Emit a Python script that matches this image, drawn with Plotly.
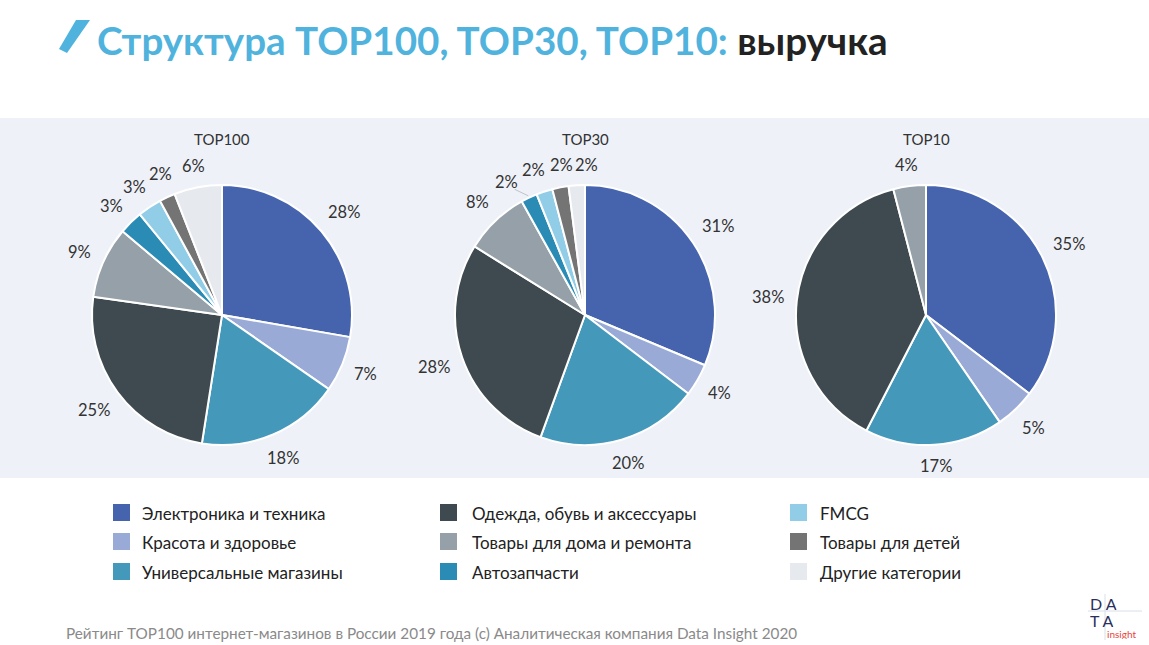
import math
import plotly.graph_objects as go

W, H = 1149, 645

categories = ["Электроника и техника", "Красота и здоровье", "Универсальные магазины",
              "Одежда, обувь и аксессуары", "Товары для дома и ремонта", "Автозапчасти",
              "FMCG", "Товары для детей", "Другие категории"]
colors = ["#4664AD", "#9AAAD6", "#4499BB", "#3F4A50", "#95A0A8", "#2A8BB5",
          "#92CDE8", "#747474", "#E6E9EE"]

top100 = [28, 7, 18, 25, 9, 3, 3, 2, 6]
top30 = [31, 4, 20, 28, 8, 2, 2, 2, 2]
top10 = [35, 5, 17, 38, 4]

pie_titles = ["TOP100", "TOP30", "TOP10"]
pie_series = [top100, top30, top10]
pie_cx = [222, 585, 926]   # pixel centres
pie_cy = 315
radius = 130

legend_cols = [categories[0:3], categories[3:6], categories[6:9]]

LABEL_FONT = 16.5
LABEL_H = 16


def px_x(x):
    return x / W


def px_y(y):
    return 1 - y / H


def label_width(txt):
    return 9.6 * (len(txt) - 1) + 13


def half_ext(w, h, ang):
    # radial half-extent and tangential half-extent of a label box at angle ang
    s, c = abs(math.sin(ang)), abs(math.cos(ang))
    return w / 2 * s + h / 2 * c, w / 2 * c + h / 2 * s


def label_positions(vals, cx, cy):
    total = float(sum(vals))
    texts = [f"{v}%" for v in vals]
    widths = [label_width(t) for t in texts]
    mids = []
    cum = 0.0
    for v in vals:
        mids.append(2 * math.pi * (cum + v / 2) / total)
        cum += v
    angs = list(mids)
    # spread labels that would collide (tangential direction)
    for _ in range(200):
        moved = False
        for i in range(len(angs) - 1):
            j = i + 1
            a = (angs[i] + angs[j]) / 2
            r_i, t_i = half_ext(widths[i], LABEL_H, a)
            r_j, t_j = half_ext(widths[j], LABEL_H, a)
            dist = radius + 12 + (r_i + r_j) / 2
            need = (t_i + t_j + 2) / dist
            sep = angs[j] - angs[i]
            if sep < need - 1e-6:
                d = (need - sep) / 2
                angs[i] -= d
                angs[j] += d
                moved = True
        if not moved:
            break
    out = []
    for t, w, a, m in zip(texts, widths, angs, mids):
        r_ext, _ = half_ext(w, LABEL_H, a)
        dist = radius + 12 + r_ext
        out.append((t, cx + dist * math.sin(a), cy - dist * math.cos(a), a, m))
    return out


fig = go.Figure()
shapes = []
annotations = []

for name, vals, cx in zip(pie_titles, pie_series, pie_cx):
    n = len(vals)
    fig.add_trace(go.Pie(
        labels=categories[:n], values=vals,
        text=[f"{v}%" for v in vals], textinfo="none",
        marker=dict(colors=colors[:n], line=dict(color="white", width=2)),
        sort=False, direction="clockwise", rotation=0,
        showlegend=False, hoverinfo="label+text", name=name,
        domain=dict(x=[px_x(cx - radius), px_x(cx + radius)],
                    y=[px_y(pie_cy + radius), px_y(pie_cy - radius)]),
    ))
    for t, x, y, a, m in label_positions(vals, cx, pie_cy):
        annotations.append(dict(xref="paper", yref="paper", x=px_x(x), y=px_y(y),
                                xanchor="center", yanchor="middle", text=t, showarrow=False,
                                borderpad=0,
                                font=dict(family="Lato", size=LABEL_FONT, color="#333333")))
        # leader line when a label had to be pushed away counter-clockwise
        if m - a > math.radians(3.5):
            r0, r1 = radius + 2, radius + 14
            shapes.append(dict(type="path", xref="paper", yref="paper",
                               path=(f"M {px_x(cx + r0 * math.sin(m))} {px_y(pie_cy - r0 * math.cos(m))} "
                                     f"L {px_x(cx + r1 * math.sin(a + 0.02))} {px_y(pie_cy - r1 * math.cos(a + 0.02))}"),
                               line=dict(color="#BFC4C9", width=1)))

# background band
shapes.append(dict(type="rect", xref="paper", yref="paper", x0=0, x1=1,
                   y0=px_y(478), y1=px_y(118), fillcolor="#EEF1F8",
                   line=dict(width=0), layer="below"))

# title slash icon
shapes.append(dict(type="path", xref="paper", yref="paper",
                   path=f"M {px_x(76)} {px_y(20)} L {px_x(90)} {px_y(20)} L {px_x(67)} {px_y(53)} L {px_x(59)} {px_y(49)} Z",
                   fillcolor="#4FB3DD", line=dict(width=0)))

annotations.append(dict(
    xref="paper", yref="paper", x=px_x(95), y=px_y(40), xanchor="left", yanchor="middle",
    text="<b><span style='color:#4FB3DD'>Структура TOP100, TOP30, TOP10: </span>"
         "<span style='color:#222222'>выручка</span></b>",
    showarrow=False, font=dict(family="Lato", size=38.6)))

# pie titles
for name, cx in zip(pie_titles, pie_cx):
    annotations.append(dict(xref="paper", yref="paper", x=px_x(cx), y=px_y(139),
                            xanchor="center", yanchor="middle", text=name, showarrow=False,
                            font=dict(family="Lato", size=15, color="#333333")))

# legend
col_x = [113, 440, 790]
text_off = [27, 30, 28]
row_y = [512, 541, 571]
for ci, col in enumerate(legend_cols):
    for ri, lab in enumerate(col):
        idx = categories.index(lab)
        x0, yc = col_x[ci], row_y[ri]
        shapes.append(dict(type="rect", xref="paper", yref="paper",
                           x0=px_x(x0), x1=px_x(x0 + 17), y0=px_y(yc + 9), y1=px_y(yc - 8),
                           fillcolor=colors[idx], line=dict(width=0)))
        annotations.append(dict(xref="paper", yref="paper", x=px_x(x0 + text_off[ci]), y=px_y(yc + 1),
                                xanchor="left", yanchor="middle", text=lab, showarrow=False,
                                font=dict(family="Lato", size=17, color="#222222")))

# footer
annotations.append(dict(xref="paper", yref="paper", x=px_x(64), y=px_y(633),
                        xanchor="left", yanchor="middle",
                        text="Рейтинг TOP100 интернет-магазинов в России 2019 года (с) Аналитическая компания Data Insight 2020",
                        showarrow=False, font=dict(family="Lato", size=15.3, color="#8A8A8A")))

# logo
shapes.append(dict(type="line", xref="paper", yref="paper", x0=px_x(1088), x1=px_x(1142),
                   y0=px_y(611), y1=px_y(611), line=dict(color="#D8E0EA", width=1)))
shapes.append(dict(type="line", xref="paper", yref="paper", x0=px_x(1105), x1=px_x(1105),
                   y0=px_y(594), y1=px_y(640), line=dict(color="#D8E0EA", width=1)))
for txt, y in [("D A", 603), ("T A", 620)]:
    annotations.append(dict(xref="paper", yref="paper", x=px_x(1089), y=px_y(y),
                            xanchor="left", yanchor="middle", text=txt, showarrow=False,
                            height=16, borderpad=0,
                            font=dict(family="Lato", size=16, color="#2B2F5E")))
annotations.append(dict(xref="paper", yref="paper", x=px_x(1106), y=px_y(633),
                        xanchor="left", yanchor="middle", text="insight", showarrow=False,
                        height=11, borderpad=0,
                        font=dict(family="Lato", size=10, color="#E8453C")))

fig.update_layout(
    width=W, height=H, margin=dict(l=0, r=0, t=0, b=0),
    paper_bgcolor="white", plot_bgcolor="white",
    shapes=shapes, annotations=annotations, showlegend=False,
    font=dict(family="Lato"),
)

fig.write_html("out.html")
